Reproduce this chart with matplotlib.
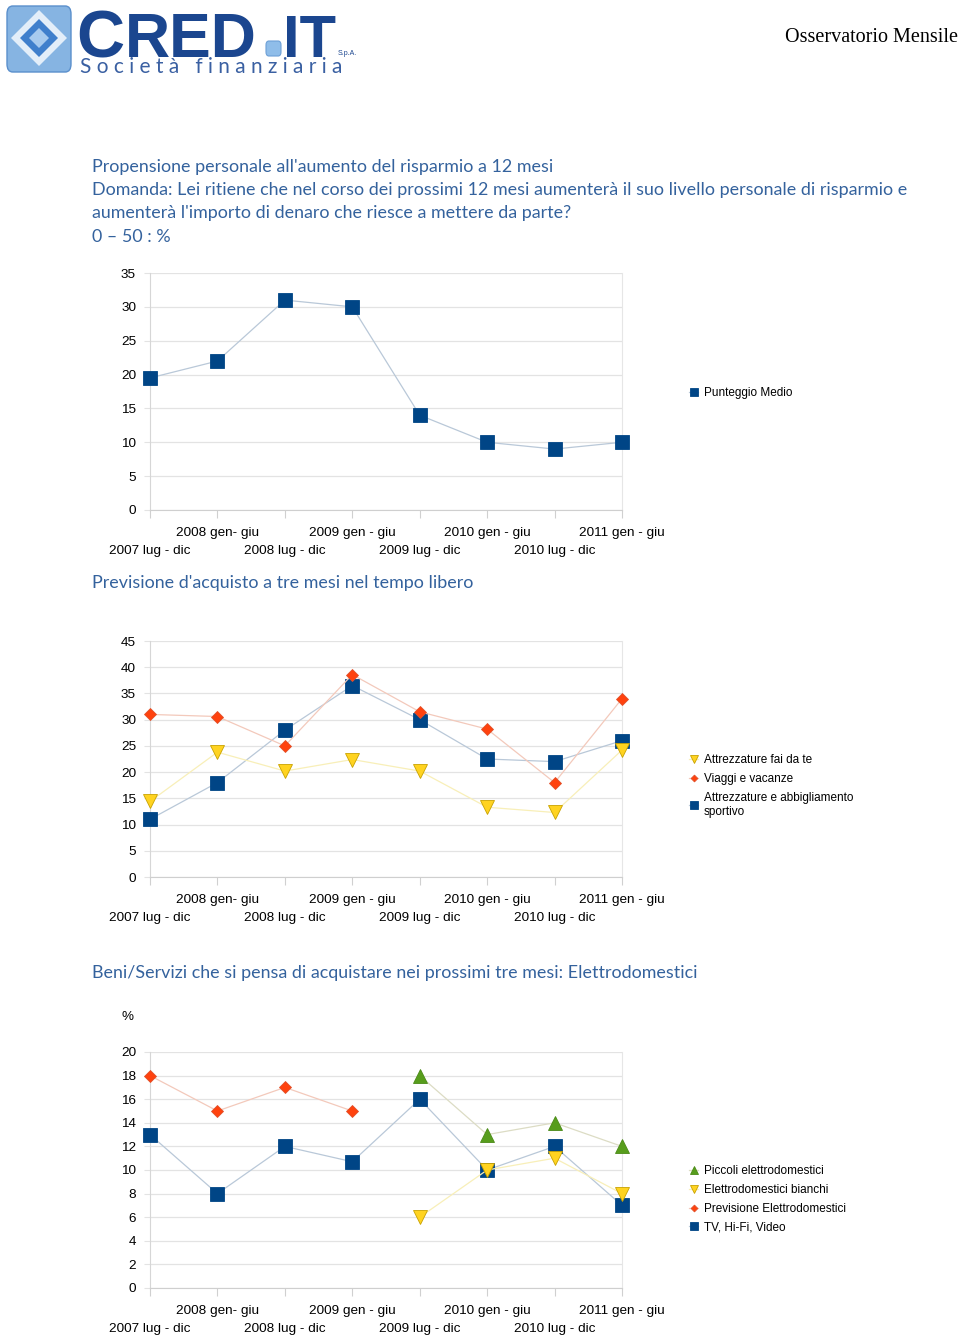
import numpy as np
import matplotlib
matplotlib.use('Agg')
import matplotlib.pyplot as plt
from matplotlib.patches import FancyBboxPatch, Polygon

W, H = 960, 1337

# ---- data ----
periodi = ['2007 lug - dic', '2008 gen- giu', '2008 lug - dic', '2009 gen - giu',
           '2009 lug - dic', '2010 gen - giu', '2010 lug - dic', '2011 gen - giu']

punteggio_medio = [19.5, 22.0, 31.0, 30.0, 14.0, 10.0, 9.0, 10.0]

sportivo = [11.0, 18.0, 28.0, 36.5, 30.0, 22.5, 22.0, 26.0]
viaggi = [31.0, 30.6, 25.0, 38.6, 31.5, 28.2, 18.0, 34.0]
fai_da_te = [14.4, 23.8, 20.2, 22.4, 20.2, 13.3, 12.3, 24.2]

tv_hifi = [13.0, 8.0, 12.0, 10.7, 16.0, 10.0, 12.0, 7.0]
previsione_el = [18.0, 15.0, 17.0, 15.0, np.nan, np.nan, np.nan, np.nan]
el_bianchi = [np.nan, np.nan, np.nan, np.nan, 6.0, 10.0, 11.0, 8.0]
piccoli_el = [np.nan, np.nan, np.nan, np.nan, 18.0, 13.0, 14.0, 12.0]

# OpenOffice palette
BLUE, BLUE_L = '#004586', '#b9c8d8'
RED, RED_L = '#ff420e', '#f3c9bb'
YEL, YEL_L = '#ffd320', '#f8efb8'
GRN, GRN_L = '#579d1c', '#dcdcc4'
TXT_BLUE = '#34629d'
LOGO_BLUE = '#1b468f'

plt.rcParams['font.family'] = ['Liberation Sans', 'DejaVu Sans']

fig = plt.figure(figsize=(W / 100, H / 100), dpi=100)
fig.patch.set_facecolor('white')


def fx(x):
    return x / W


def fy(y):
    return 1 - y / H


# ---- header / logo ----
fig.patches.append(FancyBboxPatch((fx(7), fy(72)), fx(64), 66 / H,
                                  boxstyle='round,pad=0,rounding_size=0.006',
                                  transform=fig.transFigure, facecolor='#86b4e2',
                                  edgecolor='#5a8fcc', linewidth=1))
fig.patches.append(Polygon([(fx(39), fy(10)), (fx(67), fy(38)), (fx(39), fy(66)), (fx(11), fy(38))],
                           closed=True, transform=fig.transFigure,
                           facecolor='#e3eef9', edgecolor='none'))
fig.patches.append(Polygon([(fx(39), fy(19)), (fx(58), fy(38)), (fx(39), fy(57)), (fx(20), fy(38))],
                           closed=True, transform=fig.transFigure,
                           facecolor='#3f7fcc', edgecolor='none'))
fig.patches.append(Polygon([(fx(39), fy(28)), (fx(49), fy(38)), (fx(39), fy(48)), (fx(29), fy(38))],
                           closed=True, transform=fig.transFigure,
                           facecolor='#a7caee', edgecolor='none'))

fig.text(fx(76), fy(57), 'C', fontsize=48, fontweight='bold', color=LOGO_BLUE,
         ha='left', va='baseline')
fig.text(fx(125), fy(57), 'RED', fontsize=45, fontweight='bold', color=LOGO_BLUE,
         ha='left', va='baseline')
fig.patches.append(FancyBboxPatch((fx(266), fy(56)), fx(15), 15 / H,
                                  boxstyle='round,pad=0,rounding_size=0.003',
                                  transform=fig.transFigure, facecolor='#8fbde9',
                                  edgecolor='#6c9fd6', linewidth=0.8))
fig.text(fx(283), fy(57), 'IT', fontsize=43, fontweight='bold', color=LOGO_BLUE,
         ha='left', va='baseline')
fig.text(fx(338), fy(55), 'S.p.A.', fontsize=5, color=LOGO_BLUE, ha='left', va='baseline')
fig.text(fx(80), fy(73), 'S o c i e t à   f i n a n z i a r i a', fontsize=15,
         color='#3a60a2', family=['Lato', 'DejaVu Sans'], ha='left', va='baseline')

fig.text(fx(958), fy(37), 'Osservatorio Mensile', fontsize=14.5, family='Liberation Serif',
         color='black', ha='right', va='center')

# ---- section titles ----
title_font = dict(family=['Lato', 'DejaVu Sans'], fontsize=12.9, color=TXT_BLUE,
                  ha='left', va='center')
fig.text(fx(92), fy(167), "Propensione personale all'aumento del risparmio a 12 mesi", **title_font)
fig.text(fx(92), fy(190), "Domanda: Lei ritiene che nel corso dei prossimi 12 mesi aumenterà il suo livello personale di risparmio e",
         **title_font)
fig.text(fx(92), fy(213), "aumenterà l'importo di denaro che riesce a mettere da parte?", **title_font)
fig.text(fx(92), fy(237), "0 – 50 : %", **title_font)
fig.text(fx(92), fy(583), "Previsione d'acquisto a tre mesi nel tempo libero", **title_font)
fig.text(fx(92), fy(973), "Beni/Servizi che si pensa di acquistare nei prossimi tre mesi: Elettrodomestici",
         **title_font)


def setup_axes(top, bottom, ymax, ystep):
    ax = fig.add_axes([fx(150), fy(bottom), fx(622) - fx(150), (bottom - top) / H])
    ax.set_xlim(0, 7)
    ax.set_ylim(0, ymax)
    ax.set_yticks(np.arange(0, ymax + 0.01, ystep))
    ax.set_yticklabels([f'{v:g}' for v in np.arange(0, ymax + 0.01, ystep)])
    # staggered category labels: odd periods on the upper row, even on the lower row
    pos = np.arange(len(periodi))
    ax.set_xticks(pos[1::2])
    ax.set_xticklabels(periodi[1::2])
    ax.set_xticks(pos[0::2], minor=True)
    ax.set_xticklabels(periodi[0::2], minor=True)
    ax.grid(axis='y', which='major', color='#e3e3e3', linewidth=0.9)
    ax.set_axisbelow(True)
    ax.spines['right'].set_color('#e6e6e6')
    ax.spines['right'].set_linewidth(0.8)
    ax.spines['left'].set_color('#d6d6d6')
    ax.spines['bottom'].set_color('#cfcfcf')
    ax.spines['top'].set_visible(False)
    ax.tick_params(axis='x', which='major', length=6, width=0.8, color='#d0d0d0', pad=6,
                   labelsize=9.7)
    ax.tick_params(axis='x', which='minor', length=6, width=0.8, color='#d0d0d0', pad=19,
                   labelsize=9.7)
    ax.tick_params(axis='y', length=4, width=0.8, color='#e3e3e3', pad=6, labelsize=9.7)
    return ax


def serie(ax, vals, mk, col, lcol, ms, ec=None, label=None):
    ln, = ax.plot(range(len(vals)), vals, color=lcol, linewidth=0.9, marker=mk,
                  markersize=ms, markerfacecolor=col, markeredgecolor=ec or col,
                  markeredgewidth=0.6, clip_on=False, label=label, zorder=3)
    return ln


leg_kw = dict(loc='upper left', frameon=False, fontsize=8.5, handlelength=0.8,
              handletextpad=0.45, labelspacing=0.58, borderpad=0, borderaxespad=0,
              markerscale=0.55)

# ---- chart 1 ----
ax1 = setup_axes(273, 510, 35, 5)
h1 = serie(ax1, punteggio_medio, 's', BLUE, BLUE_L, 9.5, label='Punteggio Medio')
ax1.legend(handles=[h1], bbox_to_anchor=(fx(689), fy(387)), bbox_transform=fig.transFigure, **leg_kw)

# ---- chart 2 ----
ax2 = setup_axes(641, 877, 45, 5)
b2 = serie(ax2, sportivo, 's', BLUE, BLUE_L, 9.5, label='Attrezzature e abbigliamento\nsportivo')
r2 = serie(ax2, viaggi, 'D', RED, RED_L, 6.3, ec='#e0502a', label='Viaggi e vacanze')
y2 = serie(ax2, fai_da_te, 'v', YEL, YEL_L, 9.5, ec='#c9a200', label='Attrezzature fai da te')
leg2 = ax2.legend(handles=[y2, r2, b2], bbox_to_anchor=(fx(689), fy(754)),
                  bbox_transform=fig.transFigure, **leg_kw)
for t in leg2.get_texts():
    t.set_linespacing(1.3)

# ---- chart 3 ----
ax3 = setup_axes(1052, 1288, 20, 2)
b3 = serie(ax3, tv_hifi, 's', BLUE, BLUE_L, 9.5, label='TV, Hi-Fi, Video')
r3 = serie(ax3, previsione_el, 'D', RED, RED_L, 6.3, ec='#e0502a', label='Previsione Elettrodomestici')
y3 = serie(ax3, el_bianchi, 'v', YEL, YEL_L, 9.5, ec='#c9a200', label='Elettrodomestici bianchi')
g3 = serie(ax3, piccoli_el, '^', GRN, GRN_L, 9.5, ec='#4a8a16', label='Piccoli elettrodomestici')
ax3.legend(handles=[g3, y3, r3, b3], bbox_to_anchor=(fx(689), fy(1165)),
           bbox_transform=fig.transFigure, **leg_kw)
fig.text(fx(127), fy(1017), '%', fontsize=9.7, ha='center', va='center')

fig.savefig('out.png', dpi=100, facecolor='white')
